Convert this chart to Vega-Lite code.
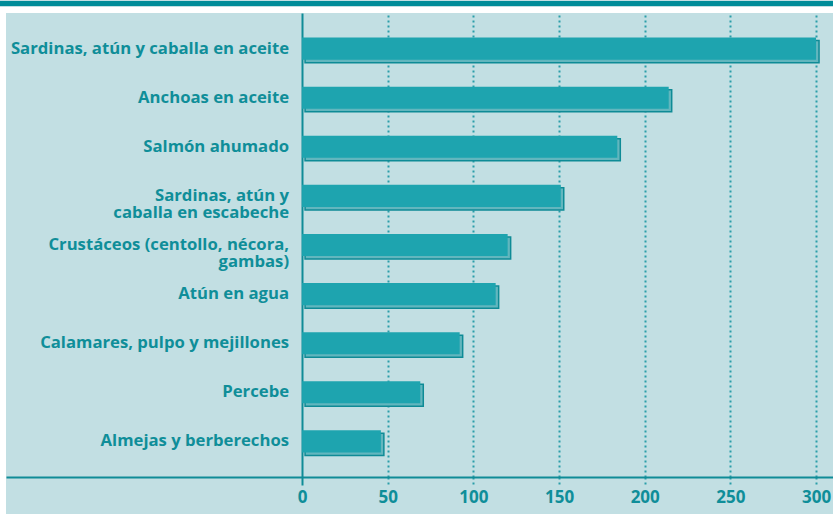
{
  "$schema": "https://vega.github.io/schema/vega-lite/v6.json",
  "background": "#c2dfe3",
  "padding": 0,
  "spacing": 0,
  "config": {"view": {"stroke": null}, "concat": {"spacing": 0}},
  "vconcat": [
    {
      "width": 833, "height": 5,
      "view": {"fill": "#008c99", "stroke": null},
      "data": {"values": [{}]},
      "mark": {"type": "point", "opacity": 0},
      "encoding": {}
    },
    {
      "width": 833, "height": 6,
      "view": {"fill": "#ffffff", "stroke": null},
      "data": {"values": [{}]},
      "mark": {"type": "point", "opacity": 0},
      "encoding": {}
    },
    {
      "spacing": 0,
      "hconcat": [
        {
          "width": 6, "height": 503,
          "view": {"fill": "#ffffff", "stroke": null},
          "data": {"values": [{}]},
          "mark": {"type": "point", "opacity": 0},
          "encoding": {}
        },
        {
          "width": 827, "height": 464,
          "data": {"values": [
            {"producto": "Sardinas, atún y caballa en aceite", "valor": 300},
            {"producto": "Anchoas en aceite", "valor": 214},
            {"producto": "Salmón ahumado", "valor": 184},
            {"producto": "Sardinas, atún y|caballa en escabeche", "valor": 151},
            {"producto": "Crustáceos (centollo, nécora,|gambas)", "valor": 120},
            {"producto": "Atún en agua", "valor": 113},
            {"producto": "Calamares, pulpo y mejillones", "valor": 92},
            {"producto": "Percebe", "valor": 69},
            {"producto": "Almejas y berberechos", "valor": 46}
          ]},
          "encoding": {
            "y": {"field": "producto", "type": "nominal", "sort": null, "axis": null,
                  "scale": {"paddingInner": 0.55, "paddingOuter": 0.5}},
            "x": {"field": "valor", "type": "quantitative",
                  "scale": {"domain": [-172.8, 309.9], "nice": false, "zero": false},
                  "axis": {
                    "title": null,
                    "values": [0, 50, 100, 150, 200, 250, 300],
                    "grid": true,
                    "gridColor": {"condition": {"test": "datum.value === 0", "value": "#0f8c97"}, "value": "#2a9ea9"},
                    "gridWidth": 2,
                    "gridDash": {"condition": {"test": "datum.value === 0", "value": []}, "value": [2, 3]},
                    "domainColor": "#0f8c97",
                    "domainWidth": 2,
                    "tickColor": {"condition": {"test": "datum.value === 0", "value": "#0f8c97"}, "value": "#2a9ea9"},
                    "tickWidth": 2,
                    "tickSize": 8,
                    "tickDash": {"condition": {"test": "datum.value === 0", "value": []}, "value": [2, 3]},
                    "labelColor": "#0f8e99",
                    "labelFont": "Open Sans",
                    "labelFontWeight": "bold",
                    "labelFontSize": 17,
                    "labelPadding": 4
                  }}
          },
          "layer": [
            {
              "mark": {"type": "bar", "xOffset": 3, "yOffset": 3, "fill": "#62b6be", "stroke": "#0e8b96", "strokeWidth": 1.5}
            },
            {
              "mark": {"type": "bar", "fill": "#1ea4af"}
            },
            {
              "mark": {"type": "text", "align": "right", "baseline": "middle", "dx": -13, "lineBreak": "|", "lineHeight": 17,
                       "font": "Open Sans", "fontWeight": "bold", "fontSize": 16.7, "color": "#0f8e99"},
              "encoding": {"x": {"datum": 0}, "text": {"field": "producto"}}
            }
          ]
        }
      ]
    }
  ]
}
